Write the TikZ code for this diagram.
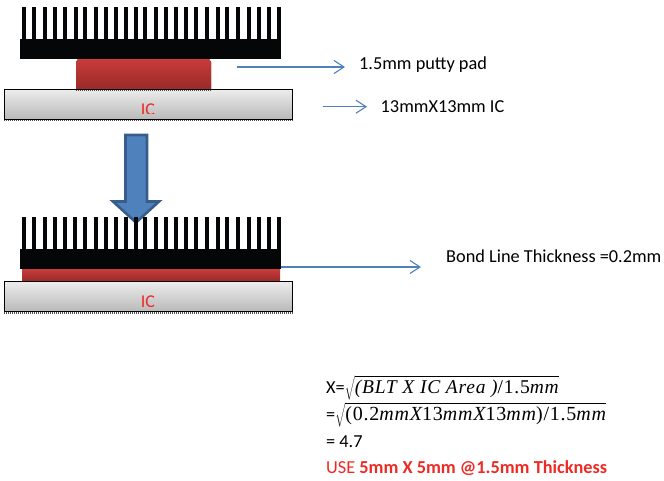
\documentclass[tikz,border=0pt]{standalone}
\usepackage{fontspec}
\setmainfont{Carlito}
\newfontfamily\mathlike[LetterSpace=4]{Liberation Serif}
\definecolor{thinblue}{HTML}{4F81BD}
\definecolor{bigblue}{HTML}{4F81BD}
\definecolor{bigedge}{HTML}{385D8A}
\definecolor{sinkblack}{HTML}{050608}
\definecolor{padred}{HTML}{C83C3A}
\definecolor{paddark}{HTML}{982A28}
\definecolor{textred}{HTML}{EE2A24}
\newcommand{\finrow}[2]{\foreach \fx in {#2}{\fill[sinkblack] (\fx-2,#1) rectangle (\fx+2,#1+33);}}
\tikzset{
  lbl/.style={anchor=base west,inner sep=0pt,font=\fontsize{18.3}{22}\selectfont,text=black},
  thinarrow/.style={draw=thinblue,line width=1.1pt,-{Straight Barb[length=10pt,width=13pt,line width=1.1pt]}},
  sinkbase/.style={fill=sinkblack,draw=none},
  icbox/.style={draw=black,line width=1pt,top color=gray!15,bottom color=gray!55,inner sep=0pt,minimum width=288.4pt,minimum height=30pt},
  padbox/.style={top color=padred,bottom color=paddark,draw=none},
  specks/.style={draw=black!70,line width=1.2pt,dash pattern=on 1pt off 1pt},
  ictext/.style={text=textred,inner sep=0pt,anchor=base,font=\fontsize{18}{22}\selectfont},
}
\usetikzlibrary{arrows.meta}
\newcommand{\mathsizeA}{\fontsize{19.5}{22}\selectfont}
\newcommand{\mathsizeB}{\fontsize{20}{22}\selectfont}
\newcommand{\rootstrut}{\rule[-3.5pt]{0pt}{15pt}}
\begin{document}
\begin{tikzpicture}[x=1pt,y=-1pt]
\useasboundingbox (0,0) rectangle (664,480);
% big arrow
\draw[fill=bigblue,draw=bigedge,line width=2.6pt,miter limit=4]
  (125.5,135) -- (147,135) -- (147,201.5) -- (159,201.5) -- (136,222.5) -- (113,201.5) -- (125.5,201.5) -- cycle;
% upper stack
\finrow{7}{24,34,45,55,65,76,85,96,106,116,126,136,145,156,166,176,186,196,207,218,227,238,249,259,269,279}
\node[sinkbase,minimum width=261pt,minimum height=20pt,inner sep=0pt] (sinkA) at (150.5,49) {};
\fill[padbox] (78,59) -- (209,59) -- (211,62) -- (211,90) -- (76,90) -- (76,62) -- cycle;
\coordinate (padA) at (143.5,74.5);
\node[icbox] (icA) at (148.5,104.5) {};
\begin{scope}
\clip (100,90) rectangle (200,113.5);
\node[ictext] (icAt) at (148,115) {IC};
\end{scope}
\draw[specks] (4,120.7) -- (293,120.7);
\draw[specks] (76,90.5) -- (211,90.5);
% lower stack
\finrow{217}{24,34,45,55,65,75,85,96,106,116,126,136,145,156,166,176,186,196,207,218,227,238,249,259,269,279}
\node[sinkbase,minimum width=261pt,minimum height=20pt,inner sep=0pt] (sinkB) at (150.5,259) {};
\fill[padbox] (22,269) rectangle (280,281.5);
\node[icbox] (icB) at (148.5,296.7) {};
\begin{scope}
\clip (100,282) rectangle (200,306);
\node[ictext] (icBt) at (148,307.5) {IC};
\end{scope}
\draw[specks] (4,313) -- (293,313);
% labels
\node[lbl] (lab1) at (359,69) {1.5mm putty pad};
\node[lbl] (lab2) at (380.5,112) {13mmX13mm IC};
\node[lbl] (lab3) at (446,262) {Bond Line Thickness =0.2mm};
\coordinate (a1s) at (237,67);
\coordinate (a1e) at (345,67);
\coordinate (a2s) at (323,106.7);
\coordinate (a2e) at (367,106.7);
\coordinate (a3s) at (281,267);
\coordinate (a3e) at (421,267);
\draw[thinarrow] (a1s) -- (a1e);
\draw[thinarrow] (a2s) -- (a2e);
\draw[thinarrow] (a3s) -- (a3e);
% formula
\node[lbl] (f1) at (326,393) {X=$\sqrt{\mbox{\rootstrut\mathlike\mathsizeA\itshape (BLT X IC Area )\upshape/1.5\itshape mm}}$};
\node[lbl] (f2) at (326,420) {=$\sqrt{\mbox{\rootstrut\mathlike\mathsizeB\upshape(0.2\itshape mmX\upshape13\itshape mmX\upshape13\itshape mm\upshape)/1.5\itshape mm}}$};
\node[lbl] (f3) at (326,447) {= 4.7};
\node[lbl,text=textred] (f4) at (326,473) {USE \bfseries 5mm X 5mm @1.5mm Thickness};
\end{tikzpicture}
\end{document}
